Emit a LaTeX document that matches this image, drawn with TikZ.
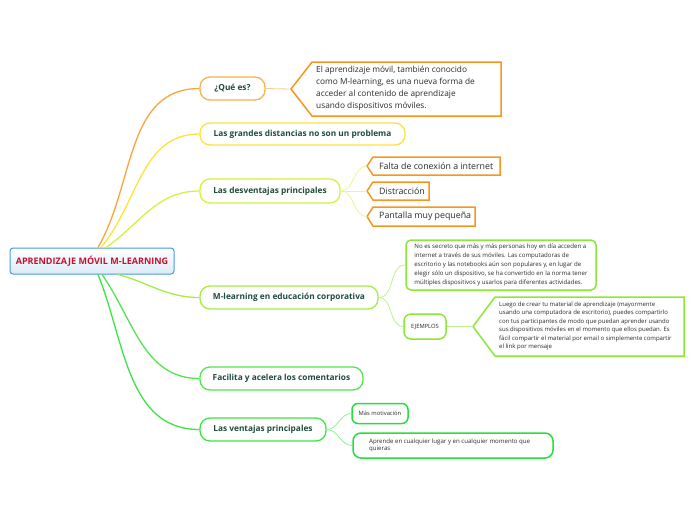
\documentclass[tikz,border=0pt]{standalone}
\usepackage{fontspec}
\setmainfont{Open Sans}
\usetikzlibrary{positioning}
\usetikzlibrary{calc}

\definecolor{rootred}{HTML}{C8102E}
\definecolor{rootblue}{HTML}{4A9AD8}
\definecolor{rootfill}{HTML}{DCEBF7}
\definecolor{titletext}{HTML}{1F4B3A}
\definecolor{bodytext}{HTML}{2A2A2A}
\definecolor{orA}{HTML}{F9B04E}
\definecolor{orB}{HTML}{F7961D}
\definecolor{orC}{HTML}{F9A43C}
\definecolor{orLt}{HTML}{FBCB90}
\definecolor{yelA}{HTML}{FCE23C}
\definecolor{ygrA}{HTML}{D4F23E}
\definecolor{ygrLt}{HTML}{E6F890}
\definecolor{lgrA}{HTML}{A6EC45}
\definecolor{lgrB}{HTML}{8CE838}
\definecolor{lgrLt}{HTML}{BDF28A}
\definecolor{grA}{HTML}{52E552}
\definecolor{grB}{HTML}{3EE346}
\definecolor{grC}{HTML}{27DE3C}
\definecolor{grLt}{HTML}{92EE96}

\begin{document}
\begin{tikzpicture}[x=1pt, y=1pt,
    topic/.style={draw=#1, line width=1.3pt, rounded corners=10pt, fill=white, text=titletext,
        font=\bfseries\fontsize{8.3}{10}\selectfont, inner sep=0pt},
    leaf/.style={draw=#1, line width=1.5pt, rounded corners=5pt, fill=white, text=bodytext,
        align=left, inner sep=0pt},
    callout/.style={draw=#1, line width=1.5pt, fill=white, line join=miter},
    calltext/.style={anchor=west, align=left, text=bodytext, inner sep=0pt},
    branch/.style={line width=1.3pt},
    twig/.style={line width=0.8pt}]
    \useasboundingbox (0,0) rectangle (696,-520);

    % central topic
    \node[draw=rootblue, line width=1pt, rounded corners=3pt, top color=white, bottom color=rootfill,
        minimum width=164pt, minimum height=26pt, inner sep=0pt, text=rootred,
        font=\bfseries\fontsize{9}{10}\selectfont] (root) at (92,-261) {APRENDIZAJE MÓVIL M-LEARNING};

    % main branches
    \node[topic=orA, minimum width=65pt, minimum height=23pt] (que) at (232.5,-88.5) {¿Qué es?};
    \node[topic=yelA, minimum width=205pt, minimum height=22pt] (dist) at (302.5,-134) {Las grandes distancias no son un problema};
    \node[topic=ygrA, minimum width=140pt, minimum height=24pt] (desv) at (270,-191) {Las desventajas principales};
    \node[topic=lgrA, minimum width=178pt, minimum height=23pt] (corp) at (289,-297.5) {M-learning en educación corporativa};
    \node[topic=grA, minimum width=163pt, minimum height=23pt] (facil) at (281.5,-378.5) {Facilita y acelera los comentarios};
    \node[topic=grB, minimum width=126pt, minimum height=23pt] (vent) at (263,-429.5) {Las ventajas principales};

    % ¿Qué es?
    \coordinate (queTip) at (291,-89);
    \draw[callout=orB] (queTip) -- (312,-62) -- (501,-62) -- (501,-116) -- (312,-116) -- cycle;
    \node[calltext, font=\fontsize{8.3}{12}\selectfont] (queinfo) at (316,-88.5)
        {El aprendizaje móvil, también conocido\\como M-learning, es una nueva forma de\\acceder al contenido de aprendizaje\\usando dispositivos móviles.};

    % desventajas
    \coordinate (faltaTip) at (367,-166);
    \draw[callout=orB] (faltaTip) -- (373,-157) -- (500,-157) -- (500,-175) -- (373,-175) -- cycle;
    \node[calltext, font=\fontsize{8.8}{10}\selectfont] (falta) at (379,-166) {Falta de conexión a internet};
    \coordinate (distrTip) at (367,-191);
    \draw[callout=orB] (distrTip) -- (373,-182) -- (429,-182) -- (429,-200) -- (373,-200) -- cycle;
    \node[calltext, font=\fontsize{8.8}{10}\selectfont] (distr) at (379,-191) {Distracción};
    \coordinate (pantTip) at (367,-216.5);
    \draw[callout=orB] (pantTip) -- (373,-207) -- (475,-207) -- (475,-226) -- (373,-226) -- cycle;
    \node[calltext, font=\fontsize{8.8}{10}\selectfont] (pant) at (379,-216.5) {Pantalla muy pequeña};

    % educación corporativa
    \node[leaf=lgrB, minimum width=190pt, minimum height=50pt, font=\fontsize{6.1}{9}\selectfont] (secreto) at (501,-265)
        {No es secreto que más y más personas hoy en día acceden a\\internet a través de sus móviles. Las computadoras de\\escritorio y las notebooks aún son populares y, en lugar de\\elegir sólo un dispositivo, se ha convertido en la norma tener\\múltiples dispositivos y usarlos para diferentes actividades.};
    \node[leaf=lgrB, minimum width=42pt, minimum height=25pt, rounded corners=7pt, font=\fontsize{5.8}{7}\selectfont] (ejem) at (425,-326.5) {EJEMPLOS};
    \coordinate (ejemTip) at (473,-326.5);
    \draw[callout=lgrB] (ejemTip) -- (495,-297) -- (684,-297) -- (684,-356) -- (495,-356) -- cycle;
    \node[calltext, font=\fontsize{6}{8.4}\selectfont] (luego) at (499,-326)
        {Luego de crear tu material de aprendizaje (mayormente\\usando una computadora de escritorio), puedes compartirlo\\con tus participantes de modo que puedan aprender usando\\sus dispositivos móviles en el momento que ellos puedan. Es\\fácil compartir el material por email o simplemente compartir\\el link por mensaje};

    % ventajas
    \node[leaf=grC, minimum width=56pt, minimum height=20pt, rounded corners=6pt, font=\fontsize{5.8}{7}\selectfont] (motiv) at (380,-413.5) {Más motivación};
    \node[leaf=grC, minimum width=200pt, minimum height=25pt, rounded corners=8pt] (aprende) at (453,-445.5) {};
    \node[calltext, font=\fontsize{6.1}{7.5}\selectfont] (aprtext) at (369,-445.5)
        {Aprende en cualquier lugar y en cualquier momento que\\quieras};

    % connectors
    \draw[branch, orC] ([xshift=6pt]root.north) to[out=60, in=180] (que.west);
    \draw[branch, yelA] ([xshift=9pt]root.north) to[out=50, in=180] (dist.west);
    \draw[branch, ygrA] ([xshift=14pt]root.north) to[out=35, in=180] (desv.west);
    \draw[branch, lgrA] ([xshift=26pt]root.south) to[out=-15, in=180] (corp.west);
    \draw[branch, grA] ([xshift=10pt]root.south) to[out=-55, in=180] (facil.west);
    \draw[branch, grB] ([xshift=6pt]root.south) to[out=-68, in=180] (vent.west);

    \draw[twig, orLt] (que.east) -- (queTip);
    \draw[twig, ygrLt] (desv.east) to[out=0, in=180] (faltaTip);
    \draw[twig, ygrLt] (desv.east) -- (distrTip);
    \draw[twig, ygrLt] (desv.east) to[out=0, in=180] (pantTip);
    \draw[twig, lgrLt] (corp.east) to[out=0, in=180] (secreto.west);
    \draw[twig, lgrLt] (corp.east) to[out=0, in=180] (ejem.west);
    \draw[twig, lgrLt] (ejem.east) -- (ejemTip);
    \draw[twig, grLt] (vent.east) to[out=0, in=180] (motiv.west);
    \draw[twig, grLt] (vent.east) to[out=0, in=180] (aprende.west);
\end{tikzpicture}
\end{document}
